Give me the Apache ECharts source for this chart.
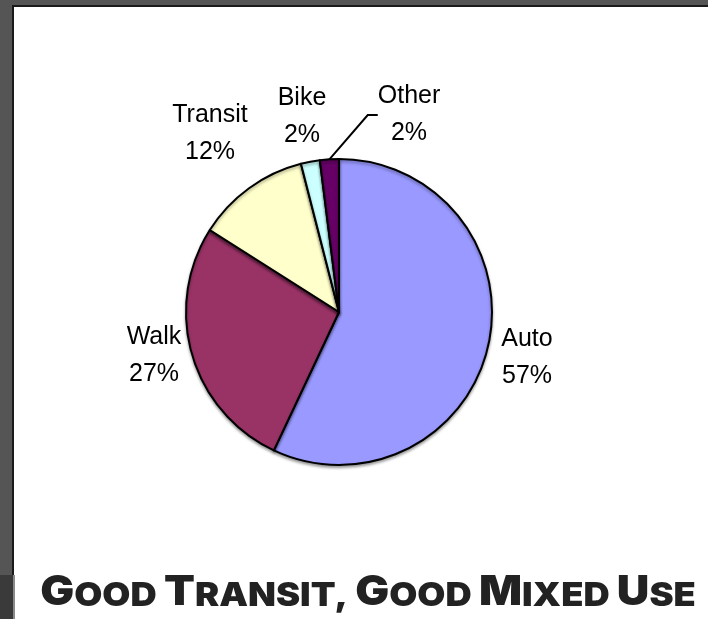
<!DOCTYPE html>
<html>
<head>
<meta charset="utf-8">
<script src="https://cdn.jsdelivr.net/npm/echarts@6/dist/echarts.min.js"></script>
<style>
html,body{margin:0;padding:0;background:#fff;}
#c{width:708px;height:619px;}
</style>
</head>
<body>
<div id="c"></div>
<script>
const categories = ['Auto', 'Walk', 'Transit', 'Bike', 'Other'];
const values = [57, 27, 12, 2, 2];
const sliceColors = ['#9999FF', '#993366', '#FFFFCC', '#CCFFFF', '#660066'];
const titleWords = [['G', 'OOD'], ['T', 'RANSIT,'], ['G', 'OOD'], ['M', 'IXED'], ['U', 'SE']];

// label centres (layout only)
const labelPos = [[527, 358], [154, 356], [210, 134], [302, 117], [409, 115]];

const chart = echarts.init(document.getElementById('c'), null, {renderer: 'canvas'});

const data = categories.map((c, i) => ({
  name: c,
  value: values[i],
  itemStyle: {color: sliceColors[i]},
  labelLine: {show: c === 'Other'}
}));

const titleText = titleWords.map(w => '{b|' + w[0] + '}{s|' + w[1] + '}').join('{sp| }');

const option = {
  backgroundColor: '#ffffff',
  animation: false,
  graphic: [
    {type: 'rect', shape: {x: 0, y: 0, width: 708, height: 6}, style: {fill: '#555555'}},
    {type: 'rect', shape: {x: 0, y: 5, width: 708, height: 2}, style: {fill: '#1a1a1a'}},
    {type: 'rect', shape: {x: 0, y: 0, width: 12, height: 575}, style: {fill: '#555555'}},
    {type: 'rect', shape: {x: 12, y: 5, width: 2, height: 570}, style: {fill: '#1a1a1a'}},
    {type: 'rect', shape: {x: 0, y: 575, width: 13, height: 44}, style: {fill: '#3a3a3a'}},
    {type: 'rect', shape: {x: 13, y: 575, width: 2, height: 44}, style: {fill: '#8a8a8a'}},
    {
      type: 'text', x: 368, y: 613, scaleX: 1.1, scaleY: 1,
      style: {
        text: titleText,
        x: 0, y: 0,
        align: 'center',
        verticalAlign: 'bottom',
        fill: '#222222',
        rich: {
          b: {fontFamily: 'Inter', fontWeight: 900, fontSize: 41, fill: '#222222', verticalAlign: 'bottom'},
          s: {fontFamily: 'Inter', fontWeight: 900, fontSize: 33, fill: '#222222', verticalAlign: 'bottom'},
          sp: {fontFamily: 'Inter', fontWeight: 900, fontSize: 33}
        }
      }
    }
  ],
  series: [{
    type: 'pie',
    center: [339, 312],
    radius: 153,
    startAngle: 90,
    clockwise: true,
    data: data,
    itemStyle: {borderColor: '#000', borderWidth: 2, shadowColor: 'rgba(0,0,0,0.35)', shadowBlur: 3, shadowOffsetY: 2},
    label: {
      show: true,
      position: 'outside',
      formatter: '{b}\n{d}%',
      fontFamily: 'Liberation Sans, Arial, sans-serif',
      fontSize: 25,
      lineHeight: 37,
      color: '#000',
      align: 'center'
    },
    labelLine: {lineStyle: {color: '#000', width: 2}, length: 20, length2: 10},
    labelLayout: function (p) {
      const pos = labelPos[p.dataIndex];
      return {x: pos[0], y: pos[1], align: 'center', verticalAlign: 'middle'};
    },
    emphasis: {disabled: true}
  }]
};
chart.setOption(option);
</script>
</body>
</html>
